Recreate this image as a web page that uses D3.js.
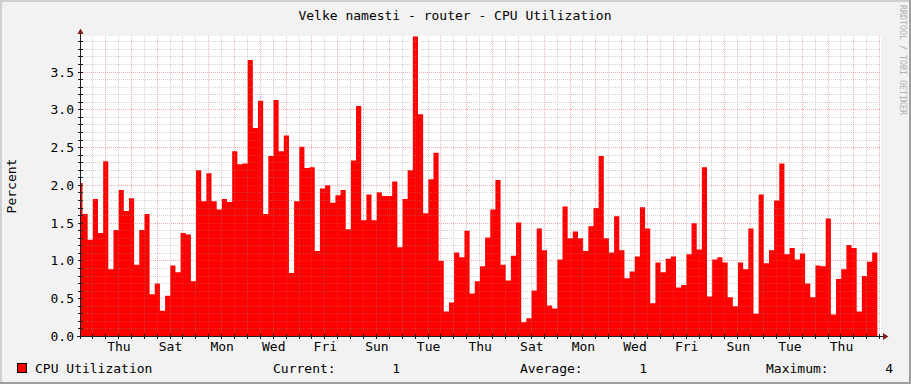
<!DOCTYPE html>
<html>
<head>
<meta charset="utf-8">
<script src="https://cdn.jsdelivr.net/npm/d3@7"></script>
<style>
  body { margin: 0; background: #f2f2f2; }
  text { font-family: "DejaVu Sans Mono", monospace; }
</style>
</head>
<body>
<div id="chart"></div>
<script>
// CPU utilization averages, one value per 288 min step
const cpuValues = [
  2.03, 1.62, 1.28, 1.82, 1.37, 2.32, 0.89, 1.41, 1.94, 1.66,
  1.83, 0.95, 1.41, 1.62, 0.56, 0.70, 0.34, 0.54, 0.94, 0.85,
  1.37, 1.35, 0.73, 2.20, 1.79, 2.16, 1.79, 1.68, 1.82, 1.78,
  2.45, 2.28, 2.29, 3.66, 2.76, 3.12, 1.62, 2.39, 3.13, 2.45,
  2.66, 0.84, 1.79, 2.51, 2.23, 2.24, 1.13, 1.96, 2.00, 1.77,
  1.87, 1.94, 1.42, 2.33, 3.05, 1.54, 1.88, 1.54, 1.91, 1.86,
  1.86, 2.05, 1.18, 1.82, 2.20, 3.97, 2.94, 1.63, 2.08, 2.43,
  1.00, 0.33, 0.45, 1.11, 1.05, 1.40, 0.57, 0.73, 0.93, 1.31,
  1.68, 2.07, 0.95, 0.74, 1.07, 1.51, 0.19, 0.24, 0.61, 1.43,
  1.14, 0.41, 0.37, 1.02, 1.72, 1.30, 1.39, 1.30, 1.13, 1.46,
  1.70, 2.39, 1.30, 1.11, 1.59, 1.14, 0.77, 0.86, 1.06, 1.71,
  1.43, 0.44, 0.98, 0.85, 1.03, 1.06, 0.65, 0.68, 1.09, 1.50,
  1.15, 2.24, 0.53, 1.02, 1.05, 0.98, 0.52, 0.40, 0.98, 0.89,
  1.43, 0.30, 1.88, 0.97, 1.14, 1.80, 2.29, 1.09, 1.17, 1.02,
  1.10, 0.70, 0.52, 0.94, 0.93, 1.56, 0.29, 0.76, 0.89, 1.21,
  1.17, 0.33, 0.80, 0.99, 1.11
];
const barStart = Date.UTC(2010, 0, 5, 21, 49);
const barStepMinutes = 288;
const viewStart = Date.UTC(2010, 0, 6, 1, 13);
const viewDays = 31;
const firstLabelDay = Date.UTC(2010, 0, 7);

const yTicks = [0, 0.5, 1.0, 1.5, 2.0, 2.5, 3.0, 3.5];
const title = "Velke namesti - router - CPU Utilization";
const yLabel = "Percent";
const seriesName = "CPU Utilization";
const legendLabels = ["Current:", "Average:", "Maximum:"];
const legendValues = ["1", "1", "4"];

const W = 911, H = 384;
const DAY = 86400000;

const svg = d3.select("#chart").append("svg")
  .attr("width", W).attr("height", H)
  .attr("shape-rendering", "crispEdges");

// frame
svg.append("rect").attr("width", W).attr("height", H).attr("fill", "#f2f2f2");
svg.append("path").attr("d", `M0,0.5H${W}M0.5,0V${H}`).attr("stroke", "#cfcfcf").attr("stroke-width", 2);
svg.append("path").attr("d", `M0,${H - 1}H${W}M${W - 1},0V${H}`).attr("stroke", "#9e9e9e").attr("stroke-width", 2);

const x = d3.scaleUtc()
  .domain([new Date(viewStart), new Date(viewStart + viewDays * DAY)])
  .range([81, 881]);
const y = d3.scaleLinear()
  .domain([0, d3.max(cpuValues)])
  .range([336.5, 36.5]);

const px = v => Math.floor(v) + 0.5;

// canvas
svg.append("rect")
  .attr("x", 81).attr("y", 36)
  .attr("width", 800).attr("height", 300)
  .attr("fill", "#ffffff");

svg.append("clipPath").attr("id", "plot")
  .append("rect").attr("x", 81).attr("y", 36).attr("width", 800).attr("height", 301);

// data as step area
const pts = cpuValues.map((v, i) => ({ t: new Date(barStart + i * barStepMinutes * 60000), v }));
pts.push({ t: new Date(barStart + cpuValues.length * barStepMinutes * 60000), v: cpuValues[cpuValues.length - 1] });

const area = d3.area()
  .curve(d3.curveStepAfter)
  .x(d => x(d.t))
  .y0(y(0))
  .y1(d => y(d.v));

svg.append("path")
  .datum(pts)
  .attr("clip-path", "url(#plot)")
  .attr("fill", "#ff0000")
  .attr("shape-rendering", "auto")
  .attr("d", area);

// grid
const grid = svg.append("g");
const halfDays = d3.utcHour.every(12).range(x.domain()[0], x.domain()[1]).filter(d => d.getUTCHours() !== 0);
const days = d3.utcDay.range(x.domain()[0], x.domain()[1]);
const minorY = d3.range(1, Math.floor(d3.max(cpuValues) * 10) + 1).map(i => i / 10).filter(v => Math.round(v * 10) % 5 !== 0);

grid.selectAll(".vminor").data(halfDays).join("line")
  .attr("x1", d => px(x(d))).attr("x2", d => px(x(d)))
  .attr("y1", 36).attr("y2", 336)
  .attr("stroke", "rgba(143,143,143,0.38)").attr("stroke-dasharray", "1,1");
grid.selectAll(".hminor").data(minorY).join("line")
  .attr("x1", 81).attr("x2", 881)
  .attr("y1", d => px(y(d))).attr("y2", d => px(y(d)))
  .attr("stroke", "rgba(143,143,143,0.38)").attr("stroke-dasharray", "1,1");
grid.selectAll(".vmajor").data(days).join("line")
  .attr("x1", d => px(x(d))).attr("x2", d => px(x(d)))
  .attr("y1", 36).attr("y2", 336)
  .attr("stroke", "rgba(222,79,79,0.45)").attr("stroke-dasharray", "1,1");
grid.selectAll(".hmajor").data(yTicks.slice(1)).join("line")
  .attr("x1", 81).attr("x2", 881)
  .attr("y1", d => px(y(d))).attr("y2", d => px(y(d)))
  .attr("stroke", "rgba(222,79,79,0.45)").attr("stroke-dasharray", "1,1");

// axis ticks
const ax = svg.append("g").attr("stroke", "#1f1f1f");
ax.selectAll(".xt").data(halfDays.concat(days)).join("line")
  .attr("x1", d => px(x(d))).attr("x2", d => px(x(d)))
  .attr("y1", 334).attr("y2", 339);
ax.selectAll(".yt").data(minorY.concat(yTicks.slice(1))).join("line")
  .attr("x1", 78).attr("x2", 83)
  .attr("y1", d => px(y(d))).attr("y2", d => px(y(d)));

// axes lines and arrows
svg.append("path").attr("d", "M77,336.5H884M80.5,339V33").attr("stroke", "#1f1f1f").attr("fill", "none");
svg.append("path").attr("d", "M883,333L888.5,336.5L883,340Z").attr("fill", "#801f1f").attr("shape-rendering", "auto");
svg.append("path").attr("d", "M77.5,34L80.5,28.5L83.5,34Z").attr("fill", "#801f1f").attr("shape-rendering", "auto");

// tick labels, every second day at noon
const labelDays = d3.range(0, viewDays, 2)
  .map(k => new Date(firstLabelDay + k * DAY + DAY / 2))
  .filter(d => d < x.domain()[1]);
svg.append("g").selectAll("text").data(labelDays).join("text")
  .attr("x", d => x(d) + 0.5)
  .attr("y", 351)
  .attr("text-anchor", "middle")
  .attr("font-size", 13)
  .attr("fill", "#000")
  .text(d3.utcFormat("%a"));

svg.append("g").selectAll("text").data(yTicks).join("text")
  .attr("x", 74)
  .attr("y", d => px(y(d)) + 4.5)
  .attr("text-anchor", "end")
  .attr("font-size", 13)
  .attr("fill", "#000")
  .text(d3.format(".1f"));

svg.append("text")
  .attr("transform", "translate(16,186) rotate(-90)")
  .attr("text-anchor", "middle")
  .attr("font-size", 13)
  .text(yLabel);

svg.append("text")
  .attr("x", 455).attr("y", 20)
  .attr("text-anchor", "middle")
  .attr("font-size", 13)
  .text(title);

svg.append("text")
  .attr("transform", "translate(900,5) rotate(90)")
  .attr("font-size", 8.3)
  .attr("fill", "#b0b0b0")
  .text("RRDTOOL / TOBI OETIKER");

// legend
svg.append("rect")
  .attr("x", 17.5).attr("y", 363.5).attr("width", 9).attr("height", 9)
  .attr("fill", "#ff0000").attr("stroke", "#000");
svg.append("text").attr("x", 35).attr("y", 373).attr("font-size", 13).text(seriesName);

const labelX = [273, 520, 766];
const valueX = [400, 647, 893];
legendLabels.forEach((l, i) => {
  svg.append("text").attr("x", labelX[i]).attr("y", 373).attr("font-size", 13).text(l);
  svg.append("text").attr("x", valueX[i]).attr("y", 373).attr("font-size", 13)
    .attr("text-anchor", "end").text(legendValues[i]);
});
</script>
</body>
</html>
